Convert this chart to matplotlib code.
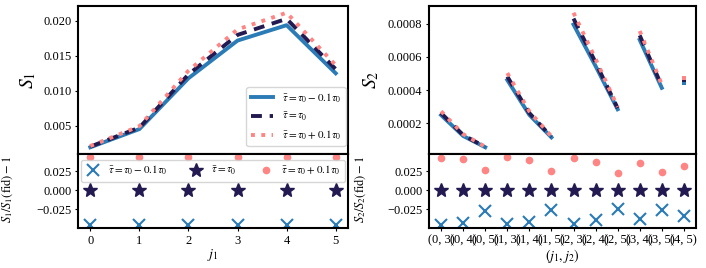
import matplotlib
matplotlib.use("Agg")
import matplotlib.pyplot as plt
import numpy as np

plt.rcParams['font.family'] = ['Liberation Serif', 'DejaVu Serif']
plt.rcParams['mathtext.fontset'] = 'stix'
plt.rcParams['axes.linewidth'] = 1.5
plt.rcParams['xtick.labelsize'] = 9
plt.rcParams['ytick.labelsize'] = 9
plt.rcParams['xtick.major.size'] = 2.5
plt.rcParams['ytick.major.size'] = 2.5
plt.rcParams['xtick.major.pad'] = 2.2
plt.rcParams['ytick.major.pad'] = 2.2

# ---------------- data ----------------
j1 = [0, 1, 2, 3, 4, 5]
S1_minus = [0.00193, 0.00453, 0.01180, 0.01719, 0.01939, 0.01251]
S1_fid = [0.00202, 0.00474, 0.01235, 0.01800, 0.02030, 0.01310]
S1_plus = [0.00211, 0.00494, 0.01288, 0.01878, 0.02117, 0.01366]
R1_minus = [-0.0448, -0.0448, -0.0448, -0.0448, -0.0448, -0.0448]
R1_fid = [0.0, 0.0, 0.0, 0.0, 0.0, 0.0]
R1_plus = [0.0431, 0.0431, 0.0431, 0.0431, 0.0431, 0.0431]

pairs = [(0, 3), (0, 4), (0, 5), (1, 3), (1, 4), (1, 5), (2, 3), (2, 4), (2, 5),
         (3, 4), (3, 5), (4, 5)]
S2_minus = [0.000249, 0.0001235, 0.0000554, 0.000460, 0.000250, 0.000115,
            0.000794, 0.000544, 0.000284, 0.000702, 0.000413, 0.000442]
S2_fid = [0.000261, 0.000129, 0.000057, 0.000481, 0.000261, 0.000118,
          0.000830, 0.000566, 0.000291, 0.000729, 0.000424, 0.000458]
S2_plus = [0.000272, 0.0001343, 0.0000585, 0.000502, 0.000271, 0.000121,
           0.000865, 0.000587, 0.000298, 0.000755, 0.000434, 0.000473]
R2_minus = [-0.0448, -0.0426, -0.0273, -0.0439, -0.0413, -0.0257,
            -0.0439, -0.0383, -0.0240, -0.0370, -0.0253, -0.0339]
R2_fid = [0.0] * 12
R2_plus = [0.0421, 0.0408, 0.0260, 0.0430, 0.0395, 0.0247,
           0.0421, 0.0368, 0.0225, 0.0352, 0.0238, 0.0320]

labels = [r'$\bar{\tau}=\tau_0-0.1\tau_0$', r'$\bar{\tau}=\tau_0$',
          r'$\bar{\tau}=\tau_0+0.1\tau_0$']
c_blue = '#2b7bb6'
c_dark = '#221a50'
c_pink = '#ff8585'
lw = 2.8
styles = [dict(color=c_blue, ls='-', lw=lw),
          dict(color=c_dark, ls=(0, (2.8, 2.0)), lw=lw),
          dict(color=c_pink, ls=(0, (1, 1.65)), lw=lw)]
mstyles = [dict(color=c_blue, marker='x', ms=8, mew=1.5, ls='none'),
           dict(color=c_dark, marker='*', ms=10, ls='none'),
           dict(color=c_pink, marker='o', ms=4.5, ls='none')]

fig = plt.figure(figsize=(7.06, 2.68), dpi=100)
axL1 = fig.add_axes([0.1105, 0.4254, 0.3824, 0.5522])
axL2 = fig.add_axes([0.1105, 0.1493, 0.3824, 0.2761], sharex=axL1)
axR1 = fig.add_axes([0.6076, 0.4254, 0.3782, 0.5522])
axR2 = fig.add_axes([0.6076, 0.1493, 0.3782, 0.2761], sharex=axR1)

# left top
for ys, st, lab in zip([S1_minus, S1_fid, S1_plus], styles, labels):
    axL1.plot(j1, ys, label=lab, **st)
axL1.set_ylabel(r'$S_1$', fontsize=14)
axL1.yaxis.set_label_coords(-0.149, 0.5)
axL1.tick_params(labelbottom=False)
axL1.legend(loc='lower right', fontsize=8, borderaxespad=0,
            bbox_to_anchor=(1 - 2.3 / 270, 7.6 / 148))

# left bottom
for ys, st, lab in zip([R1_minus, R1_fid, R1_plus], mstyles, labels):
    axL2.plot(j1, ys, label=lab, **st)
axL2.set_ylabel(r'$S_1/S_1(\mathrm{fid})-1$', fontsize=9)
axL2.yaxis.set_label_coords(-0.234, 0.52)
axL2.set_xlabel(r'$j_1$', fontsize=10, labelpad=0.5)
axL2.set_xticks(j1)
axL2.set_yticks([-0.025, 0.0, 0.025])
axL2.legend(loc='upper center', ncol=3, fontsize=8, handlelength=1.3,
            handletextpad=0.7, columnspacing=2.0)

# right top: segments grouped by j1
x2 = np.arange(len(pairs))
firsts = [p[0] for p in pairs]
for ys, st in zip([S2_minus, S2_fid, S2_plus], styles):
    for g in sorted(set(firsts)):
        idx = [i for i, f in enumerate(firsts) if f == g]
        xs = [x2[i] for i in idx]
        yy = [ys[i] for i in idx]
        if len(idx) == 1:
            axR1.plot(xs, yy, marker='s', ms=2.8, mew=0, color=st['color'], ls='none')
        else:
            axR1.plot(xs, yy, **st)
axR1.set_ylabel(r'$S_2$', fontsize=14)
axR1.yaxis.set_label_coords(-0.18, 0.5)
axR1.tick_params(labelbottom=False)
axR1.set_yticks([0.0002, 0.0004, 0.0006, 0.0008])

# right bottom
for ys, st in zip([R2_minus, R2_fid, R2_plus], mstyles):
    axR2.plot(x2, ys, **st)
axR2.set_ylabel(r'$S_2/S_2(\mathrm{fid})-1$', fontsize=9)
axR2.yaxis.set_label_coords(-0.228, 0.52)
axR2.set_xlabel(r'$(j_1,j_2)$', fontsize=10, labelpad=0.5)
axR2.set_xticks(x2)
axR2.set_xticklabels([f'({a}, {b})' for a, b in pairs])
axR2.set_yticks([-0.025, 0.0, 0.025])

fig.savefig('out.png', dpi=100)
